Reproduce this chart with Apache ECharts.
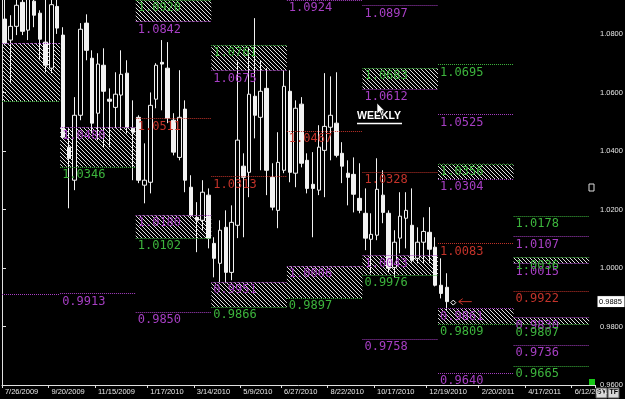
<!DOCTYPE html>
<html>
<head>
<meta charset="utf-8">
<title>Weekly</title>
<style>
  html, body { margin: 0; padding: 0; background: #000; }
  #chart { width: 625px; height: 399px; }
</style>
</head>
<body>
<div id="chart"></div>
<script src="https://cdn.jsdelivr.net/npm/echarts@6/dist/echarts.min.js"></script>
<script>
// weekly bars, one category per week starting 7/26/2009
const firstWeek = [2009, 7, 26]
const weekCount = 102
const tickLabels = ['7/26/2009', '9/20/2009', '11/15/2009', '1/17/2010', '3/14/2010', '5/9/2010', '6/27/2010',
  '8/22/2010', '10/17/2010', '12/19/2010', '2/20/2011', '4/17/2011', '6/12/2011']
const priceTicks = { min: 0.96, max: 1.0916, step: 0.02 }

// [open, close, low, high]
const candles = [
  [1.0851, 1.0768, 1.0761, 1.0950], [1.0779, 1.0826, 1.0631, 1.0864], [1.0826, 1.0898, 1.0796, 1.0930],
  [1.0908, 1.0809, 1.0796, 1.0940], [1.0813, 1.0920, 1.0779, 1.0950], [1.0912, 1.0864, 1.0823, 1.0940],
  [1.0871, 1.0782, 1.0710, 1.0881], [1.0772, 1.0693, 1.0669, 1.0930], [1.0683, 1.0900, 1.0666, 1.0940],
  [1.0894, 1.0820, 1.0800, 1.0935], [1.0796, 1.0447, 1.0443, 1.0823], [1.0413, 1.0375, 1.0204, 1.0481],
  [1.0300, 1.0522, 1.0266, 1.0584], [1.0522, 1.0816, 1.0505, 1.0837], [1.0837, 1.0744, 1.0710, 1.0867],
  [1.0717, 1.0495, 1.0460, 1.0744], [1.0529, 1.0697, 1.0437, 1.0734], [1.0693, 1.0604, 1.0413, 1.0751],
  [1.0577, 1.0570, 1.0413, 1.0614], [1.0549, 1.0594, 1.0478, 1.0669], [1.0591, 1.0662, 1.0471, 1.0744],
  [1.0666, 1.0481, 1.0460, 1.0710], [1.0478, 1.0464, 1.0300, 1.0573], [1.0515, 1.0300, 1.0290, 1.0522],
  [1.0283, 1.0300, 1.0221, 1.0426], [1.0293, 1.0556, 1.0255, 1.0600], [1.0577, 1.0693, 1.0546, 1.0700],
  [1.0703, 1.0697, 1.0539, 1.0779], [1.0683, 1.0512, 1.0495, 1.0772], [1.0505, 1.0396, 1.0385, 1.0529],
  [1.0378, 1.0515, 1.0368, 1.0676], [1.0543, 1.0300, 1.0259, 1.0573], [1.0276, 1.0180, 1.0173, 1.0317],
  [1.0173, 1.0163, 1.0054, 1.0225], [1.0163, 1.0259, 1.0129, 1.0300], [1.0249, 1.0102, 1.0067, 1.0272],
  [1.0084, 1.0033, 0.9968, 1.0105], [1.0016, 1.0129, 0.9951, 1.0163], [1.0139, 0.9985, 0.9948, 1.0197],
  [0.9985, 1.0156, 0.9958, 1.0214], [1.0146, 1.0437, 1.0102, 1.0710], [1.0348, 1.0310, 1.0105, 1.0392],
  [1.0327, 1.0594, 1.0242, 1.0754], [1.0587, 1.0522, 1.0443, 1.0854], [1.0515, 1.0604, 1.0334, 1.0710],
  [1.0614, 1.0334, 1.0249, 1.0683], [1.0310, 1.0208, 1.0197, 1.0358], [1.0197, 1.0361, 1.0136, 1.0464],
  [1.0334, 1.0621, 1.0324, 1.0676], [1.0604, 1.0327, 1.0293, 1.0676], [1.0324, 1.0546, 1.0276, 1.0573],
  [1.0560, 1.0358, 1.0344, 1.0584], [1.0368, 1.0272, 1.0255, 1.0392], [1.0286, 1.0272, 1.0105, 1.0396],
  [1.0266, 1.0413, 1.0249, 1.0488], [1.0402, 1.0484, 1.0242, 1.0666], [1.0481, 1.0522, 1.0368, 1.0655],
  [1.0495, 1.0385, 1.0378, 1.0669], [1.0392, 1.0348, 1.0290, 1.0430], [1.0324, 1.0310, 1.0214, 1.0368],
  [1.0320, 1.0252, 1.0190, 1.0378], [1.0238, 1.0197, 1.0187, 1.0358], [1.0187, 1.0102, 1.0061, 1.0272],
  [1.0098, 1.0115, 0.9982, 1.0187], [1.0112, 1.0269, 1.0095, 1.0375], [1.0249, 1.0190, 1.0153, 1.0334],
  [1.0187, 0.9999, 0.9985, 1.0197], [1.0002, 1.0088, 0.9968, 1.0129], [1.0102, 1.0177, 1.0050, 1.0259],
  [1.0170, 1.0197, 1.0067, 1.0259], [1.0146, 1.0026, 1.0019, 1.0272], [1.0033, 1.0088, 1.0016, 1.0139],
  [1.0088, 1.0125, 1.0016, 1.0173], [1.0122, 1.0064, 1.0016, 1.0208], [1.0071, 0.9941, 0.9937, 1.0105],
  [0.9941, 0.9913, 0.9896, 1.0033], [0.9934, 0.9885, 0.9855, 0.9982],
]
const lastPrice = 0.9885

// quarterly levels: week offsets where each quarter starts / ends
const quarterStart = [-4, 10, 23, 36, 49, 62, 75, 88]
const quarterEnd = [10, 23, 36, 49, 62, 75, 88, 101]

// [quarter, price]
const purpleLevels = [
  [0, 1.0768], [0, 0.9910], [1, 1.0480], [1, 0.9913], [2, 1.0842], [2, 1.0180], [2, 0.9850],
  [3, 1.0675], [3, 0.9951], [4, 1.0924], [4, 1.0006], [5, 1.0897], [5, 1.0612], [5, 1.0043], [5, 0.9758],
  [6, 1.0525], [6, 1.0304], [6, 0.9861], [6, 0.9640], [7, 1.0107], [7, 1.0015], [7, 0.9830], [7, 0.9736],
]
const greenLevels = [
  [0, 1.0570], [1, 1.0346], [2, 1.0920], [2, 1.0102], [3, 1.0761], [3, 0.9866], [4, 0.9897],
  [5, 1.0683], [5, 0.9976], [6, 1.0695], [6, 1.0356], [6, 0.9809],
  [7, 1.0178], [7, 1.0036], [7, 0.9807], [7, 0.9665],
]
const redLevels = [
  [2, 1.0511], [3, 1.0313], [4, 1.0467], [5, 1.0328], [6, 1.0083], [7, 0.9922],
]
// [quarter, top, bottom] hatched bands
const zones = [
  [0, 1.0768, 1.0570], [1, 1.0480, 1.0346], [2, 1.0920, 1.0842], [2, 1.0180, 1.0102],
  [3, 1.0761, 1.0675], [3, 0.9951, 0.9866], [4, 1.0006, 0.9897], [5, 1.0683, 1.0612],
  [5, 1.0043, 0.9976], [6, 1.0356, 1.0304], [6, 0.9861, 0.9809], [7, 1.0036, 1.0015], [7, 0.9830, 0.9807],
]

const PURPLE = '#a73fc4'
const GREEN = '#3db53d'
const RED = '#c4332a'

const weeks = []
for (let i = 0; i < weekCount; i++) {
  const d = new Date(firstWeek[0], firstWeek[1] - 1, firstWeek[2] + i * 7)
  weeks.push((d.getMonth() + 1) + '/' + d.getDate() + '/' + d.getFullYear())
}

// diagonal hatch tile
const hatch = document.createElement('canvas')
hatch.width = 4
hatch.height = 4
const hctx = hatch.getContext('2d')
const img = hctx.createImageData(4, 4)
for (let y = 0; y < 4; y++) {
  for (let x = 0; x < 4; x++) {
    if ((x - y + 4) % 4 === 0) {
      const k = (y * 4 + x) * 4
      img.data[k] = 225; img.data[k + 1] = 225; img.data[k + 2] = 225; img.data[k + 3] = 255
    }
  }
}
hctx.putImageData(img, 0, 0)

// markLine drops points outside the axes, so clamp them to the plot and
// hide labels whose start is off the left edge
const clampY = (v) => Math.min(v, priceTicks.max)
const levelLines = []
const addLevels = (list, color) => {
  list.forEach(([q, v]) => {
    const x0 = Math.max(quarterStart[q], 0)
    levelLines.push([
      {
        coord: [x0, clampY(v)],
        lineStyle: { color: color },
        label: { show: quarterStart[q] >= 0, color: color, formatter: v.toFixed(4) },
      },
      { coord: [quarterEnd[q], clampY(v)] },
    ])
  })
}
addLevels(purpleLevels, PURPLE)
addLevels(greenLevels, GREEN)
addLevels(redLevels, RED)

const areas = zones.map(([q, top, bottom]) => [
  { coord: [Math.max(quarterStart[q], 0), clampY(top)] },
  { coord: [quarterEnd[q], bottom] },
])

const myChart = echarts.init(document.getElementById('chart'))

const option = {
  backgroundColor: '#000',
  animation: false,
  grid: { left: 2, right: 30, top: 0, bottom: 14, containLabel: false, outerBoundsMode: 'none' },
  xAxis: [
    {
      type: 'category',
      data: weeks,
      boundaryGap: true,
      axisLine: { lineStyle: { color: '#e0e0e0', width: 1 } },
      axisTick: {
        show: true,
        length: 3,
        lineStyle: { color: '#e0e0e0' },
        interval: (idx, val) => tickLabels.includes(val),
      },
      axisLabel: {
        color: '#e6e6e6',
        fontSize: 7.5,
        fontFamily: 'Liberation Sans',
        align: 'left',
        margin: 3,
        interval: (idx, val) => tickLabels.includes(val),
      },
      splitLine: { show: false },
    },
    {
      type: 'value',
      min: 0,
      max: weekCount,
      show: false,
    },
  ],
  yAxis: {
    type: 'value',
    position: 'right',
    min: priceTicks.min,
    max: priceTicks.max,
    interval: priceTicks.step,
    axisLine: { show: true, lineStyle: { color: '#e0e0e0' } },
    axisTick: { show: true, length: 4, lineStyle: { color: '#e0e0e0' } },
    axisLabel: {
      color: '#e6e6e6',
      fontSize: 7.5,
      fontFamily: 'Liberation Sans',
      margin: 5,
      showMaxLabel: false,
      formatter: (v) => v.toFixed(4),
    },
    splitLine: { show: false },
  },
  series: [
    {
      type: 'candlestick',
      data: candles,
      barWidth: 4,
      clip: true,
      z: 2,
      itemStyle: {
        color: '#000',
        borderColor: '#f2f2f2',
        color0: '#f2f2f2',
        borderColor0: '#f2f2f2',
        borderWidth: 1,
      },
    },
    {
      // quarterly levels
      type: 'line',
      xAxisIndex: 1,
      data: [[0, priceTicks.min]],
      symbol: 'none',
      silent: true,
      z: 3,
      markLine: {
        silent: true,
        symbol: 'none',
        lineStyle: { type: 'dotted', width: 1 },
        label: {
          position: 'insideStartBottom',
          distance: [2, 2],
          fontFamily: 'DejaVu Sans Mono',
          fontSize: 12,
        },
        emphasis: { disabled: true },
        data: levelLines,
      },
    },
    {
      // hatched bands, drawn over bars and labels
      type: 'line',
      xAxisIndex: 1,
      data: [[0, priceTicks.min]],
      symbol: 'none',
      silent: true,
      z: 5,
      markArea: {
        silent: true,
        itemStyle: { color: { image: hatch, repeat: 'repeat' }, opacity: 1 },
        data: areas,
      },
    },
  ],
}
myChart.setOption(option)

// overlay pieces
const lastIdx = candles.length - 1
const [px, py] = myChart.convertToPixel({ xAxisIndex: 0, yAxisIndex: 0 }, [lastIdx, lastPrice])
const axisX = myChart.convertToPixel({ xAxisIndex: 1 }, weekCount)
const plotBottom = myChart.convertToPixel({ yAxisIndex: 0 }, priceTicks.min)

myChart.setOption({
  graphic: [
    { type: 'line', shape: { x1: 2.5, y1: 0, x2: 2.5, y2: plotBottom }, style: { stroke: '#d0d0d0', lineWidth: 1 } },
    // WEEKLY tag
    { type: 'text', x: 357, y: 111, style: { text: 'WEEKLY', fill: '#fff', font: 'bold 10.5px Liberation Sans' } },
    { type: 'line', shape: { x1: 357, y1: 123.5, x2: 402, y2: 123.5 }, style: { stroke: '#fff', lineWidth: 1.5 } },
    {
      type: 'polygon',
      shape: { points: [[377, 103], [377, 114], [379.5, 111.5], [381.5, 116], [383, 115.3], [381, 110.8], [384.5, 110.8]] },
      style: { fill: '#fff', stroke: '#000', lineWidth: 0.6 },
    },
    // current price marker and arrow
    {
      type: 'polygon',
      shape: { points: [[px + 4, py + 1], [px + 6.5, py - 1.5], [px + 9, py + 1], [px + 6.5, py + 3.5]] },
      style: { fill: '#000', stroke: '#fff', lineWidth: 1 },
    },
    { type: 'line', shape: { x1: px + 12, y1: py, x2: px + 25, y2: py }, style: { stroke: RED, lineWidth: 1 } },
    { type: 'polyline', shape: { points: [[px + 16, py - 3], [px + 12, py], [px + 16, py + 3]] }, style: { stroke: RED, lineWidth: 1, fill: null } },
    // price tag on the axis
    { type: 'rect', shape: { x: axisX + 2, y: py - 6, width: 28, height: 12 }, style: { fill: '#fff', stroke: '#000' } },
    { type: 'text', x: axisX + 4, y: py - 4, style: { text: lastPrice.toFixed(4), fill: '#000', font: '7.5px Liberation Sans' } },
    // small widgets on the frame
    { type: 'rect', shape: { x: axisX - 6, y: 184, width: 5, height: 7 }, style: { fill: '#000', stroke: '#ddd', lineWidth: 1 } },
    { type: 'rect', shape: { x: axisX - 6, y: plotBottom - 6, width: 6, height: 6 }, style: { fill: '#18c818' } },
    { type: 'rect', shape: { x: axisX + 1, y: plotBottom + 3, width: 11, height: 10 }, style: { fill: '#d8d8d8', stroke: '#555' } },
    { type: 'text', x: axisX + 2, y: plotBottom + 4, style: { text: 'SY', fill: '#000', font: 'bold 7px Liberation Sans' } },
    { type: 'rect', shape: { x: axisX + 13, y: plotBottom + 3, width: 11, height: 10 }, style: { fill: '#d8d8d8', stroke: '#555' } },
    { type: 'text', x: axisX + 14.5, y: plotBottom + 4, style: { text: 'TF', fill: '#000', font: 'bold 7px Liberation Sans' } },
  ],
})
</script>
</body>
</html>
